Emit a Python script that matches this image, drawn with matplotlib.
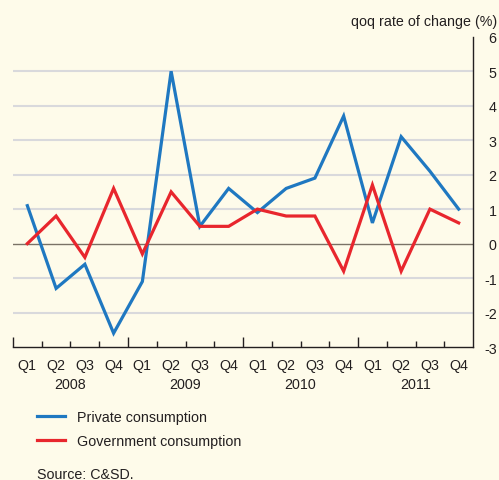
import numpy as np
import matplotlib
matplotlib.use('Agg')
import matplotlib.pyplot as plt
from matplotlib.ticker import FixedLocator

plt.rcParams['font.family'] = ['Liberation Sans', 'DejaVu Sans']
plt.rcParams['axes.unicode_minus'] = False

quarters = ['Q1', 'Q2', 'Q3', 'Q4'] * 4
years = ['2008', '2009', '2010', '2011']
private = [1.1, -1.3, -0.6, -2.6, -1.1, 5.0, 0.5, 1.6,
           0.9, 1.6, 1.9, 3.7, 0.6, 3.1, 2.1, 1.0]
government = [0.0, 0.8, -0.4, 1.6, -0.3, 1.5, 0.5, 0.5,
              1.0, 0.8, 0.8, -0.8, 1.7, -0.8, 1.0, 0.6]

bg = '#fefbea'
blue = '#1f78c1'
red = '#e8262d'
grid = '#d9d9dc'
txt = '#231f20'
fs = 10.3

fig = plt.figure(figsize=(4.99, 4.81), dpi=100, facecolor=bg)
ax = fig.add_axes([0.026, 0.2765, 0.922, 0.645])
ax.set_facecolor(bg)

x = np.arange(len(private)) + 0.5

# grid lines
for v in range(-2, 6):
    if v == 0:
        continue
    ax.axhline(v, color=grid, lw=1.5, zorder=1)
ax.axhline(0, color='#7a7266', lw=1.0, zorder=1)

ax.plot(x, private, color=blue, lw=2.3, label='Private consumption', zorder=3,
        solid_joinstyle='miter')
ax.plot(x, government, color=red, lw=2.3, label='Government consumption', zorder=3,
        solid_joinstyle='miter')

ax.set_xlim(0, 16)
ax.set_ylim(-3, 6)

for s in ['top', 'left']:
    ax.spines[s].set_visible(False)
for s in ['right', 'bottom']:
    ax.spines[s].set_color(txt)
    ax.spines[s].set_linewidth(1.0)

# y axis on the right
ax.yaxis.tick_right()
ax.set_yticks(range(-3, 7))
ax.tick_params(axis='y', length=0, pad=17, labelsize=fs, labelcolor=txt)
for lab in ax.get_yticklabels():
    lab.set_horizontalalignment('right')

# x ticks: minor at quarter boundaries, major at year boundaries
ax.xaxis.set_major_locator(FixedLocator([0, 4, 8, 12]))
ax.xaxis.set_minor_locator(FixedLocator([q for q in range(1, 16) if q % 4]))
ax.tick_params(axis='x', which='major', direction='in', length=7, width=1.0,
               color=txt, labelbottom=False)
ax.tick_params(axis='x', which='minor', direction='in', length=4, width=1.0,
               color=txt)
ax.set_xticklabels([])

trans = ax.get_xaxis_transform()
for i, q in enumerate(quarters):
    ax.text(x[i], -0.037, q, transform=trans, ha='center', va='top',
            fontsize=fs, color=txt)
for j, y in enumerate(years):
    ax.text(j * 4 + 2, -0.097, y, transform=trans, ha='center', va='top',
            fontsize=fs, color=txt)

fig.text(0.996, 0.955, 'qoq rate of change (%)', ha='right', va='center',
         fontsize=fs, color=txt)

leg = fig.legend(loc='upper left', bbox_to_anchor=(0.062, 0.158),
                 frameon=False, fontsize=fs, handlelength=2.0,
                 handletextpad=0.85, labelspacing=0.75, borderaxespad=0)
for t in leg.get_texts():
    t.set_color(txt)

fig.text(0.074, 0.012, 'Source: C&SD.', ha='left', va='center',
         fontsize=fs, color=txt)

fig.savefig('out.png', dpi=100, facecolor=bg)
